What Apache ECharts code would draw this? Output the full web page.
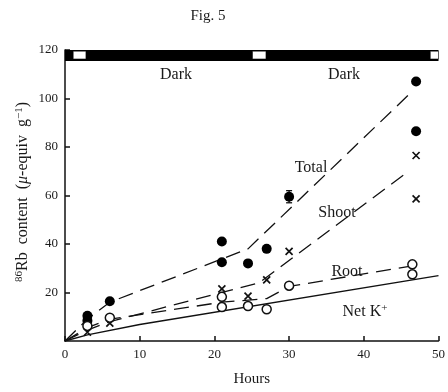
<!DOCTYPE html>
<html>
<head>
<meta charset="utf-8">
<script src="https://cdn.jsdelivr.net/npm/echarts@6/dist/echarts.min.js"></script>
<style>
  html, body { margin: 0; padding: 0; background: #fff; }
  #chart { width: 448px; height: 392px; }
</style>
</head>
<body>
<div id="chart"></div>
<script>
// measured points
const totalHours = [3, 3, 6, 21, 21, 24.5, 27, 30, 47, 47]
const totalValues = [10.4, 8.4, 16.4, 41, 32.5, 32, 38, 59.5, 107, 86.5]
const shootHours = [3, 6, 21, 24.5, 27, 30, 47, 47]
const shootValues = [3.6, 7.4, 21.5, 18.5, 25.2, 37, 76.5, 58.6]
const rootHours = [3, 6, 21, 21, 24.5, 27, 30, 46.5, 46.5]
const rootValues = [6.2, 9.6, 18.2, 14, 14.4, 13.1, 22.8, 31.6, 27.5]

// fitted curves drawn by hand in the figure
const totalLineHours = [0, 3, 6, 24.5, 46.5]
const totalLineValues = [0, 9, 16, 38, 103]
const shootLineHours = [0, 3, 6, 26, 46]
const shootLineValues = [0, 4.5, 8, 24, 70]
const rootLineHours = [0, 3, 6, 21, 27, 30, 46.5]
const rootLineValues = [0, 5.5, 9, 16, 17.5, 22.5, 31]
const netLineHours = [0, 3, 10, 50]
const netLineValues = [0, 2.5, 6.8, 27]

// error bar on the 30 h total point
const errHour = 30
const errLow = 57
const errHigh = 62

// light periods in the top bar (hours)
const lightStart = [1.1, 25.1, 48.9]
const lightEnd = [2.8, 26.9, 50]

const xTicks = [0, 10, 20, 30, 40, 50]
const yTicks = [0, 20, 40, 60, 80, 100, 120]

const pairs = (xs, ys) => xs.map((x, i) => [x, ys[i]])
const serif = '"Liberation Serif", "DejaVu Serif", serif'
const ink = '#111'
const textCol = '#1a1a1a'

const chart = echarts.init(document.getElementById('chart'))

const curve = (name, xs, ys, type) => ({
  name: name,
  type: 'line',
  data: pairs(xs, ys),
  showSymbol: false,
  silent: true,
  animation: false,
  lineStyle: { color: ink, width: 1.3, type: type },
  z: 2
})

const label = (text, x, y) => ({
  type: 'text', x: x, y: y,
  style: {
    text: text, fontFamily: serif, fontSize: 16, fill: textCol, align: 'center', verticalAlign: 'middle',
    rich: { s: { fontSize: 11, fontFamily: serif, verticalAlign: 'top', padding: [0, 0, 8, 0] } }
  }
})

chart.setOption({
  backgroundColor: '#fff',
  animation: false,
  grid: { left: 65, right: 8, top: 50, bottom: 43 },
  xAxis: {
    type: 'value',
    min: xTicks[0],
    max: xTicks[xTicks.length - 1],
    interval: 10,
    splitLine: { show: false },
    axisLine: { lineStyle: { color: ink, width: 1.5 } },
    axisTick: { inside: true, length: 5, lineStyle: { color: ink, width: 1.5 } },
    axisLabel: { color: textCol, fontFamily: serif, fontSize: 13, margin: 7 },
    name: 'Hours',
    nameLocation: 'middle',
    nameGap: 31,
    nameTextStyle: { color: textCol, fontFamily: serif, fontSize: 15 }
  },
  yAxis: {
    type: 'value',
    min: yTicks[0],
    max: yTicks[yTicks.length - 1],
    interval: 20,
    splitLine: { show: false },
    axisLine: { lineStyle: { color: ink, width: 1.5 } },
    axisTick: { inside: true, length: 5, lineStyle: { color: ink, width: 1.5 } },
    axisLabel: { color: textCol, fontFamily: serif, fontSize: 13, margin: 7, showMinLabel: false }
  },
  graphic: [
    { type: 'text', x: 208, y: 16, style: { text: 'Fig. 5', fontFamily: serif, fontSize: 15, fill: textCol, align: 'center', verticalAlign: 'middle' } },
    {
      type: 'text', x: 23, y: 192, rotation: Math.PI / 2,
      style: {
        text: '{s|86}Rb  content  ({i|μ}-equiv  g{s|−1})',
        fontFamily: serif, fontSize: 16, fill: textCol, align: 'center', verticalAlign: 'middle',
        rich: {
          s: { fontSize: 11, fontFamily: serif, verticalAlign: 'top', padding: [0, 0, 8, 0] },
          i: { fontStyle: 'italic', fontFamily: serif, fontSize: 16 }
        }
      }
    },
    label('Dark', 176, 75),
    label('Dark', 344, 75),
    label('Total', 311, 168),
    label('Shoot', 337, 213),
    label('Root', 347, 272),
    label('Net K{s|+}', 365, 312)
  ],
  series: [
    // top dark/light bar
    {
      type: 'line',
      data: [],
      silent: true,
      markArea: {
        silent: true,
        itemStyle: { color: '#000' },
        data: [[{ xAxis: 0, yAxis: 115.5 }, { xAxis: 50, yAxis: 120 }]]
      },
      z: 3
    },
    {
      type: 'line',
      data: [],
      silent: true,
      markArea: {
        silent: true,
        itemStyle: { color: '#fff', borderColor: '#000', borderWidth: 0.5 },
        data: lightStart.map((s, i) => [{ xAxis: s, yAxis: 116.3 }, { xAxis: lightEnd[i], yAxis: 119.5 }])
      },
      z: 4
    },
    curve('Total fit', totalLineHours, totalLineValues, [15, 8]),
    curve('Shoot fit', shootLineHours, shootLineValues, [15, 8]),
    curve('Root fit', rootLineHours, rootLineValues, [15, 8]),
    curve('Net K fit', netLineHours, netLineValues, 'solid'),
    {
      name: 'Total',
      type: 'scatter',
      data: pairs(totalHours, totalValues),
      symbol: 'circle',
      symbolSize: 10,
      itemStyle: { color: '#000', opacity: 1 },
      z: 5
    },
    {
      name: 'Shoot',
      type: 'scatter',
      data: pairs(shootHours, shootValues),
      symbol: 'path://M0,0L10,10M10,0L0,10',
      symbolSize: 7,
      itemStyle: { color: 'none', borderColor: ink, borderWidth: 1.7, opacity: 1 },
      z: 5
    },
    {
      name: 'Root',
      type: 'scatter',
      data: pairs(rootHours, rootValues),
      symbol: 'circle',
      symbolSize: 9,
      itemStyle: { color: '#fff', borderColor: ink, borderWidth: 1.5, opacity: 1 },
      z: 5
    },
    {
      name: 'error',
      type: 'custom',
      silent: true,
      data: [[errHour, errLow, errHigh]],
      renderItem: function(params, api) {
        const lo = api.coord([api.value(0), api.value(1)])
        const hi = api.coord([api.value(0), api.value(2)])
        const cap = 3
        const st = { stroke: ink, lineWidth: 1.3 }
        return {
          type: 'group',
          children: [
            { type: 'line', shape: { x1: lo[0], y1: lo[1], x2: hi[0], y2: hi[1] }, style: st },
            { type: 'line', shape: { x1: lo[0] - cap, y1: lo[1], x2: lo[0] + cap, y2: lo[1] }, style: st },
            { type: 'line', shape: { x1: hi[0] - cap, y1: hi[1], x2: hi[0] + cap, y2: hi[1] }, style: st }
          ]
        }
      },
      z: 4
    }
  ]
})
</script>
</body>
</html>
